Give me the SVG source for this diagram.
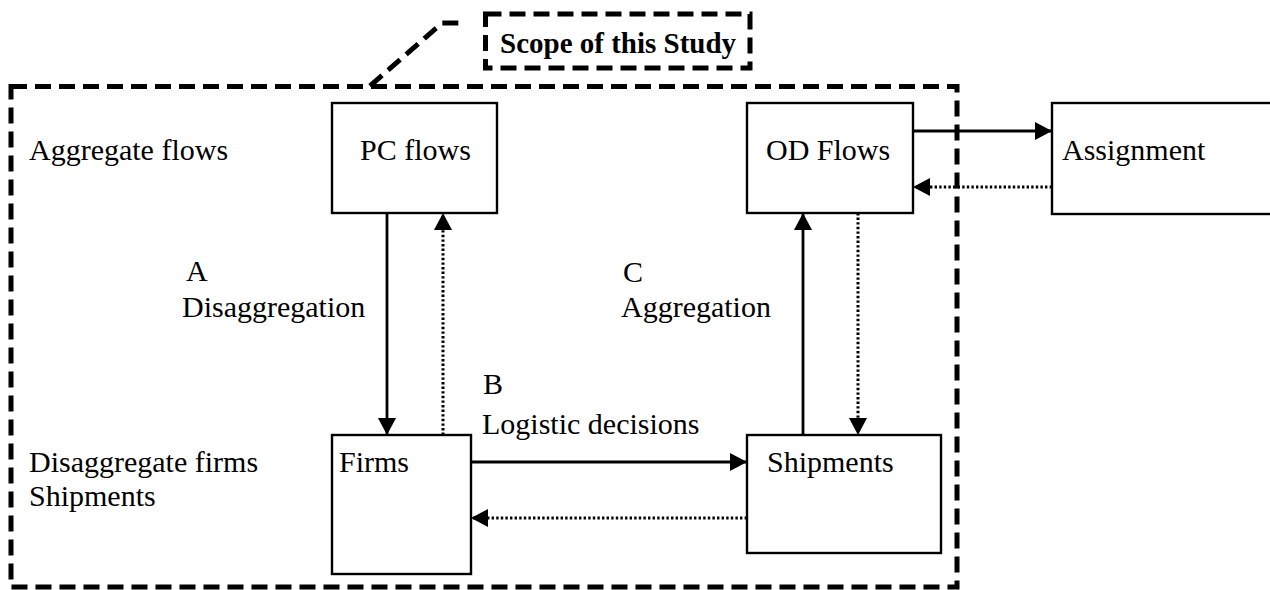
<svg xmlns="http://www.w3.org/2000/svg" width="1270" height="590" viewBox="0 0 1270 590">
<defs>
<style>
.txt{font-family:"Liberation Serif","Times New Roman",serif;font-size:30px;fill:#000}
.bold{font-weight:bold;font-size:29px}
.box{fill:#fff;stroke:#000;stroke-width:2.4}
.scope{fill:none;stroke:#000;stroke-width:5;stroke-dasharray:16 8}
.solid{fill:none;stroke:#000;stroke-width:2.8}
.dot{fill:none;stroke:#000;stroke-width:3;stroke-dasharray:2.4 2.2}
</style>
<marker id="arr" markerUnits="userSpaceOnUse" markerWidth="18" markerHeight="18" viewBox="0 0 18 18" refX="17" refY="9" orient="auto">
<path d="M0,0 L17,9 L0,18 Z" fill="#000"/>
</marker>
</defs>
<rect class="scope" x="11" y="86.5" width="946" height="500.5"/>
<g id="scope-label">
<path class="scope" d="M370,86 L442,23 L464,23"/>
<rect class="scope" x="485.5" y="14" width="264.5" height="54"/>
<text class="txt bold" x="500" y="53">Scope of this Study</text>
</g>
<g id="row-labels">
<text class="txt" x="29" y="160">Aggregate flows</text>
<text class="txt" x="29" y="472">Disaggregate firms</text>
<text class="txt" x="29" y="506">Shipments</text>
</g>
<g id="pc-flows">
<rect class="box" x="332" y="103" width="165" height="110"/>
<text class="txt" x="360" y="160">PC flows</text>
</g>
<g id="od-flows">
<rect class="box" x="747" y="103" width="166" height="110"/>
<text class="txt" x="766" y="160">OD Flows</text>
</g>
<g id="assignment">
<rect class="box" x="1052" y="103" width="230" height="111"/>
<text class="txt" x="1062" y="160">Assignment</text>
</g>
<g id="firms">
<rect class="box" x="332" y="435" width="139" height="139"/>
<text class="txt" x="339" y="472">Firms</text>
</g>
<g id="shipments">
<rect class="box" x="747" y="435" width="194" height="118"/>
<text class="txt" x="767" y="472">Shipments</text>
</g>
<g id="connectors">
<line class="solid" x1="387" y1="213" x2="387" y2="435" marker-end="url(#arr)"/>
<line class="dot" x1="443" y1="435" x2="443" y2="213" marker-end="url(#arr)"/>
<line class="solid" x1="471" y1="462" x2="747" y2="462" marker-end="url(#arr)"/>
<line class="dot" x1="747" y1="518" x2="471" y2="518" marker-end="url(#arr)"/>
<line class="solid" x1="803" y1="435" x2="803" y2="213" marker-end="url(#arr)"/>
<line class="dot" x1="858" y1="213" x2="858" y2="435" marker-end="url(#arr)"/>
<line class="solid" x1="913" y1="131" x2="1052" y2="131" marker-end="url(#arr)"/>
<line class="dot" x1="1052" y1="187" x2="913" y2="187" marker-end="url(#arr)"/>
</g>
<g id="edge-labels">
<text class="txt" x="186" y="281">A</text>
<text class="txt" x="182" y="317">Disaggregation</text>
<text class="txt" x="483" y="394">B</text>
<text class="txt" x="482" y="434">Logistic decisions</text>
<text class="txt" x="623" y="282">C</text>
<text class="txt" x="621" y="317">Aggregation</text>
</g>
</svg>
